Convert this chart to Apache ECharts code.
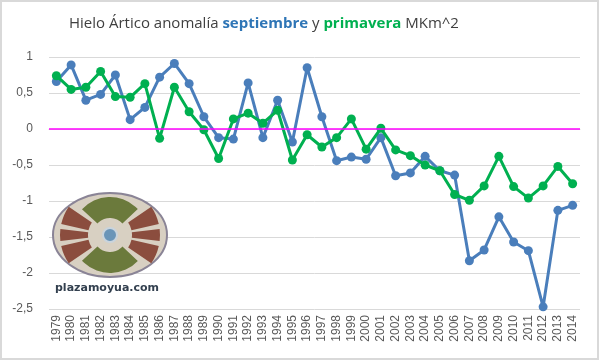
<!DOCTYPE html>
<html><head><meta charset="utf-8">
<script src="https://cdn.jsdelivr.net/npm/echarts@6/dist/echarts.min.js"></script>
<style>html,body{margin:0;padding:0;background:#fff}#c{width:600px;height:361px}</style>
</head><body><div id="c"></div>
<script>
var years = ['1979','1980','1981','1982','1983','1984','1985','1986','1987','1988','1989','1990','1991','1992','1993','1994','1995','1996','1997','1998','1999','2000','2001','2002','2003','2004','2005','2006','2007','2008','2009','2010','2011','2012','2013','2014'];
var septiembre = [0.66,0.89,0.40,0.48,0.75,0.13,0.30,0.72,0.91,0.63,0.17,-0.12,-0.14,0.64,-0.12,0.40,-0.18,0.85,0.17,-0.44,-0.39,-0.42,-0.12,-0.65,-0.61,-0.38,-0.58,-0.64,-1.83,-1.68,-1.22,-1.57,-1.69,-2.47,-1.13,-1.06];
var primavera = [0.74,0.55,0.58,0.80,0.45,0.44,0.63,-0.13,0.58,0.24,-0.01,-0.41,0.14,0.22,0.08,0.26,-0.43,-0.08,-0.25,-0.12,0.14,-0.28,0.01,-0.29,-0.37,-0.50,-0.58,-0.91,-0.99,-0.79,-0.38,-0.80,-0.96,-0.79,-0.52,-0.76];
var yTicks = {min:-2.5, max:1, interval:0.5};

var chart = echarts.init(document.getElementById('c'));
var cx = 110, cy = 235;
chart.setOption({
  animation:false,
  backgroundColor:'#fff',
  title:{
    text:'{n|Hielo Ártico anomalía }{b|septiembre}{n| y }{g|primavera}{n| MKm^2}',
    left:64, top:11,
    textStyle:{fontWeight:'normal',rich:{
      n:{fontFamily:'Open Sans',fontSize:15,color:'#404040',fontWeight:'normal'},
      b:{fontFamily:'Open Sans',fontSize:15,color:'#2e75b6',fontWeight:'bold'},
      g:{fontFamily:'Open Sans',fontSize:15,color:'#00b050',fontWeight:'bold'}
    }}
  },
  grid:{left:49,right:20,top:57,bottom:52},
  xAxis:{type:'category',data:years,boundaryGap:true,
    axisLine:{lineStyle:{color:'#d9d9d9'}},axisTick:{show:false},
    axisLabel:{rotate:90,interval:0,color:'#595959',fontSize:12,fontFamily:'Liberation Sans',margin:6}},
  yAxis:{type:'value',min:yTicks.min,max:yTicks.max,interval:yTicks.interval,
    axisLine:{show:false},axisTick:{show:false},
    splitLine:{lineStyle:{color:'#d9d9d9'}},
    axisLabel:{color:'#595959',fontSize:12,fontFamily:'Liberation Sans',margin:16,
      formatter:function(v){return String(v).replace('.',',');}}},
  series:[
    {name:'septiembre',type:'line',data:septiembre,color:'#4a7ebb',
     lineStyle:{width:3},symbol:'circle',symbolSize:9,z:3,
     markLine:{silent:true,symbol:['none','none'],label:{show:false},
       lineStyle:{color:'#ff00ff',width:1.5,type:'solid'},data:[{yAxis:0}]}},
    {name:'primavera',type:'line',data:primavera,color:'#00b050',
     lineStyle:{width:3},symbol:'circle',symbolSize:9,z:4}
  ],
  graphic:[
    {type:'rect',shape:{x:1,y:1,width:597,height:358},style:{fill:'none',stroke:'#d9d9d9',lineWidth:2},z:0},
    {type:'ellipse',shape:{cx:cx,cy:cy,rx:57,ry:42},style:{fill:'#d8d0c2',stroke:'#8a8496',lineWidth:2},z:10},
    {type:'sector',shape:{cx:cx,cy:cy,r0:17,r:38,startAngle:-2.4,endAngle:-0.75},style:{fill:'#6b7a3c'},z:11},
    {type:'sector',shape:{cx:cx,cy:cy,r0:17,r:38,startAngle:0.75,endAngle:2.4},style:{fill:'#6b7a3c'},z:11},
    {type:'sector',shape:{cx:cx,cy:cy,r0:22,r:50,startAngle:-0.6,endAngle:-0.22},style:{fill:'#8b4d3e'},z:11},
    {type:'sector',shape:{cx:cx,cy:cy,r0:22,r:50,startAngle:-0.12,endAngle:0.12},style:{fill:'#8b4d3e'},z:11},
    {type:'sector',shape:{cx:cx,cy:cy,r0:22,r:50,startAngle:0.22,endAngle:0.6},style:{fill:'#8b4d3e'},z:11},
    {type:'sector',shape:{cx:cx,cy:cy,r0:22,r:50,startAngle:Math.PI-0.6,endAngle:Math.PI-0.22},style:{fill:'#8b4d3e'},z:11},
    {type:'sector',shape:{cx:cx,cy:cy,r0:22,r:50,startAngle:Math.PI-0.12,endAngle:Math.PI+0.12},style:{fill:'#8b4d3e'},z:11},
    {type:'sector',shape:{cx:cx,cy:cy,r0:22,r:50,startAngle:Math.PI+0.22,endAngle:Math.PI+0.6},style:{fill:'#8b4d3e'},z:11},
    {type:'circle',shape:{cx:cx,cy:cy,r:7},style:{fill:'#6a95b8',stroke:'#c9d4dd',lineWidth:2},z:12},
    {type:'text',left:55,top:283,style:{text:'plazamoyua.com',fill:'#33404f',font:'bold 11px "DejaVu Sans"'},z:12}
  ]
});
</script></body></html>
